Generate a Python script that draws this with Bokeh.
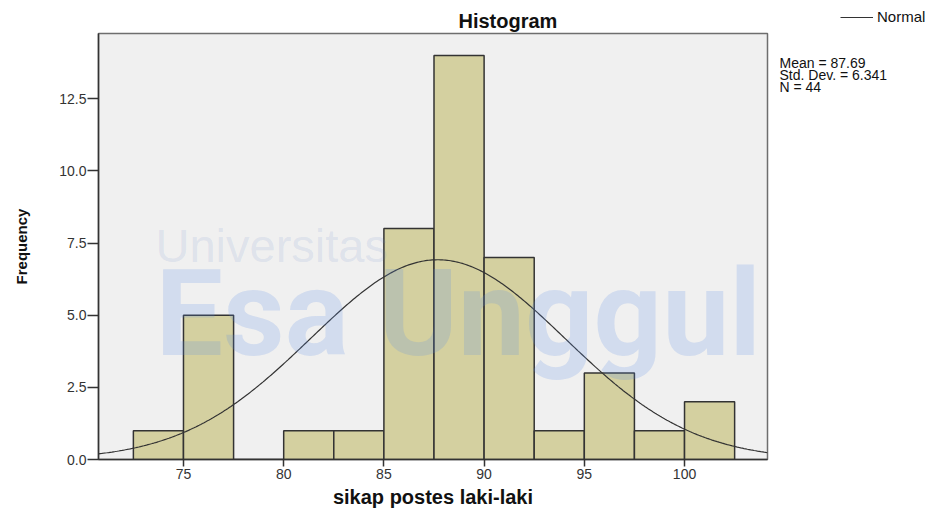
import numpy as np
from bokeh.plotting import figure
from bokeh.layouts import row
from bokeh.models import (FixedTicker, PrintfTickFormatter, Label, Legend, LegendItem,
                          Range1d, ColumnDataSource)
from bokeh.core.properties import value
from bokeh.embed import file_html
from bokeh.resources import INLINE

# ---- data ----
bin_edges = [72.5, 75.0, 77.5, 80.0, 82.5, 85.0, 87.5, 90.0, 92.5, 95.0, 97.5, 100.0, 102.5]
counts = [1, 5, 0, 1, 1, 8, 14, 7, 1, 3, 1, 2]
x_ticks = [75, 80, 85, 90, 95, 100]
y_ticks = [0.0, 2.5, 5.0, 7.5, 10.0, 12.5]
mean = 87.69
std_dev = 6.341
n_obs = 44
stats_lines = ["Mean = %.2f" % mean, "Std. Dev. = %.3f" % std_dev, "N = %d" % n_obs]

FONT = "Liberation Sans"
X0, X1 = 70.76, 104.14
Y0, Y1 = 0.0, 14.76
H = 512
W_MAIN = 775
W_SIDE = 155

p = figure(width=W_MAIN, height=H, output_backend="svg", toolbar_location=None,
           x_range=Range1d(X0, X1), y_range=Range1d(Y0, Y1),
           min_border_left=98, min_border_right=8, min_border_top=33, min_border_bottom=53)
p.frame_align = False

p.background_fill_color = "#F0F0F0"
p.border_fill_color = "white"
p.outline_line_color = "#6e6e6e"
p.outline_line_width = 1.5
p.grid.visible = False

p.title.text = "Histogram"
p.title.align = "left"
p.title.offset = 360
p.title.standoff = 3
p.title.text_font = FONT
p.title.text_font_size = "20px"
p.title.text_font_style = "bold"
p.title.text_color = "#111111"

for ax in (p.xaxis[0], p.yaxis[0]):
    ax.axis_line_color = "#333333"
    ax.axis_line_width = 1.5
    ax.major_tick_line_color = "#333333"
    ax.major_tick_line_width = 1.5
    ax.major_tick_in = 0
    ax.minor_tick_line_color = None
    ax.major_label_text_font = FONT
    ax.major_label_text_color = "#333333"
    ax.axis_label_text_font = FONT
    ax.axis_label_text_font_style = "bold"
    ax.axis_label_text_color = "#111111"

p.xaxis.ticker = FixedTicker(ticks=x_ticks)
p.xaxis.major_tick_out = 7
p.xaxis.major_label_standoff = 2
p.xaxis.major_label_text_font_size = "14px"
p.xaxis.axis_label = "sikap postes laki-laki"
p.xaxis.axis_label_text_font_size = "20px"
p.xaxis.axis_label_standoff = 4

p.yaxis.ticker = FixedTicker(ticks=y_ticks)
p.yaxis.formatter = PrintfTickFormatter(format="%.1f")
p.yaxis.major_tick_out = 11
p.yaxis.major_label_standoff = 1
p.yaxis.major_label_text_font_size = "14px"
p.yaxis.axis_label = "Frequency"
p.yaxis.axis_label_text_font_size = "15px"
p.yaxis.axis_label_standoff = 26

# histogram bars
p.quad(left=bin_edges[:-1], right=bin_edges[1:], bottom=0, top=counts,
       fill_color="#D4D0A0", line_color="#333333", line_width=1.5)

# fitted normal curve from the displayed statistics
bin_width = bin_edges[1] - bin_edges[0]
xs = np.linspace(X0, X1, 400)
ys = n_obs * bin_width * np.exp(-0.5 * ((xs - mean) / std_dev) ** 2) / (std_dev * np.sqrt(2 * np.pi))
p.line(xs, ys, line_color="#333333", line_width=1.2)

# faint watermark
p.add_layout(Label(x=57, y=214, x_units="screen", y_units="screen", text="Universitas",
                   text_font=FONT, text_font_size="47px", text_color="#6f8fc8",
                   text_alpha=0.15, text_baseline="middle"))
p.add_layout(Label(x=57, y=146, x_units="screen", y_units="screen", text="Esa Unggul",
                   text_font="Roboto", text_font_style="bold", text_font_size="120px",
                   text_color="#5b8ee6", text_alpha=0.2, text_baseline="middle"))

# side panel: legend and statistics
side = figure(width=W_SIDE, height=H, output_backend="svg", toolbar_location=None,
              x_range=Range1d(0, W_SIDE), y_range=Range1d(H, 0),
              min_border=0, min_border_left=0, min_border_right=0,
              min_border_top=0, min_border_bottom=0)
side.frame_align = False
side.axis.visible = False
side.grid.visible = False
side.outline_line_color = None
side.background_fill_color = "white"
side.border_fill_color = "white"
side.title.visible = False

# legend key renderer (its points lie outside the visible range; only the legend swatch shows)
key = side.line(x=[-20, -10], y=[-20, -20], line_color="#333333", line_width=1.2)
legend = Legend(items=[LegendItem(label="Normal", renderers=[key])], location=(65, H - 18 - 7),
                padding=0, margin=0, spacing=0, glyph_width=33, glyph_height=14,
                label_height=14, label_standoff=4, label_text_font=FONT,
                label_text_font_size="15px", label_text_color="#111111",
                border_line_color=None, background_fill_alpha=0)
side.add_layout(legend, "center")

stats_src = ColumnDataSource(dict(x=[4, 4, 4], y=[62, 74, 86], text=stats_lines))
side.text(x="x", y="y", text="text", source=stats_src, text_font=value(FONT),
          text_font_size="14px", text_color="#111111", text_baseline="middle")

layout = row(p, side, spacing=0)
open("out.html", "w").write(file_html(layout, INLINE))
